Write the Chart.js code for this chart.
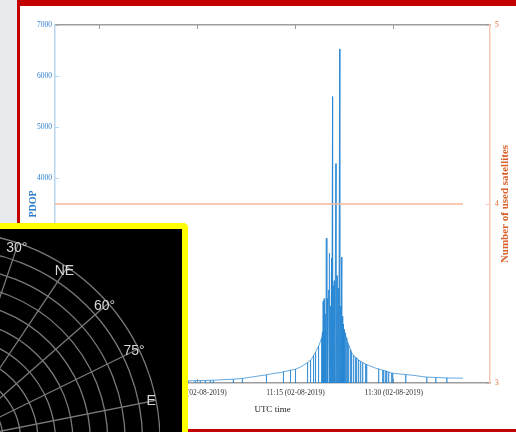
<!DOCTYPE html>
<html><head><meta charset="utf-8">
<script src="https://cdn.jsdelivr.net/npm/chart.js@4.4.1/dist/chart.umd.min.js"></script>
<style>
html,body{margin:0;padding:0;width:516px;height:432px;overflow:hidden;background:#e8eaee;}
#frame{position:absolute;left:17px;top:0;width:520px;height:423px;background:#fff;border-top:6px solid #c20000;border-left:3px solid #c20000;border-bottom:3px solid #c20000;}
#main{position:absolute;left:0;top:0;}
#sky{position:absolute;left:-10px;top:223px;width:192px;height:220px;background:#000;border-top:6px solid #ffff00;border-right:6px solid #ffff00;border-top-right-radius:5px;overflow:hidden;}
#polar{position:absolute;left:-248px;top:3px;}
</style></head>
<body>
<div id="frame"></div>
<canvas id="main" width="516" height="432"></canvas>
<div id="sky"><canvas id="polar" width="418" height="418"></canvas></div>
<script>
// ---- data (time in minutes after 10:00 UTC, 02-08-2019) ----
const timeMin = [
38.27, 45.15, 52.81, 58.47,
58.62, 58.62, 58.62,
59.69, 59.69, 59.69,
60.46, 60.46, 60.46,
61.22, 61.22, 61.22,
61.99, 61.99, 61.99,
62.45, 62.45, 62.45,
63.52,
65.51, 65.51, 65.51,
66.58,
66.89, 66.89, 66.89,
69.34,
70.56, 70.56, 70.56,
71.17, 72.70,
73.16, 73.16, 73.16,
74.23, 74.23, 74.23,
74.39,
75.00, 75.00, 75.00,
75.77,
76.84, 76.84, 76.84,
76.99,
77.30, 77.30, 77.30,
77.60,
77.76, 77.76, 77.76,
78.06, 78.06, 78.06,
78.21,
78.52, 78.52, 78.52,
78.83,
78.98, 78.98, 78.98,
79.13, 79.13, 79.21,
79.29, 79.29, 79.36,
79.44, 79.44, 79.52,
79.59, 79.59, 79.70,
79.80, 79.80,
79.90, 79.90,
80.05, 80.12, 80.12,
80.20, 80.20,
80.30, 80.30,
80.51, 80.51,
80.66, 80.66,
80.75, 80.75,
80.90, 80.90,
81.00, 81.00,
81.18, 81.18,
81.35, 81.35,
81.50, 81.50,
81.62, 81.62,
81.76, 81.76,
81.92, 81.92,
82.06, 82.06,
82.20, 82.20,
82.32, 82.32,
82.45, 82.45,
82.58, 82.58,
82.70,
82.81, 82.81, 82.81,
82.96, 82.96, 82.96,
83.12, 83.12, 83.12,
83.27,
83.42, 83.42, 83.42,
83.57, 83.57, 83.57,
83.72,
83.88, 83.88, 83.88,
84.18, 84.18, 84.18,
84.34, 84.34, 84.34,
84.64, 84.64, 84.64,
84.95, 84.95, 84.95,
85.26, 85.26, 85.26,
85.71, 85.71, 85.71,
85.87, 85.87, 85.87,
86.48, 87.24,
87.70, 87.70, 87.70,
88.01,
88.32, 88.32, 88.32,
88.47, 88.47, 88.47,
88.78, 88.78, 88.78,
88.93, 88.93, 88.93,
89.23, 89.23, 89.23,
89.69, 89.69, 89.69,
89.85, 89.85, 89.85,
90.00, 91.07,
91.84, 91.84, 91.84,
92.60, 94.90,
95.05, 95.05, 95.05,
96.43, 96.43, 96.43,
97.96,
98.11, 98.11, 98.11,
99.49, 100.56
];
const pdop = [
15, 20, 30, 42,
42, 0, 42,
45, 0, 45,
48, 0, 48,
50, 0, 50,
53, 0, 53,
55, 0, 55,
62,
75, 0, 75,
85,
88, 0, 88,
137,
160, 0, 160,
176, 205,
220, 0, 220,
250, 0, 250,
254,
270, 0, 270,
313,
400, 0, 400,
410,
450, 0, 450,
500,
540, 0, 540,
600, 0, 600,
645,
720, 0, 720,
820,
880, 0, 880,
1000, 0, 1600,
1100, 0, 1650,
1200, 0, 1150,
1350, 0, 2830,
1300, 0,
1650, 0,
1820, 1400, 0,
2540, 0,
1500, 0,
2440, 0,
5600, 0,
1900, 0,
2000, 0,
1700, 0,
4290, 0,
2100, 0,
1850, 0,
1600, 0,
6530, 0,
1500, 0,
2460, 0,
1300, 0,
1150, 0,
1050, 0,
980, 0,
930,
880, 0, 880,
800, 0, 800,
740, 0, 740,
700,
650, 0, 650,
590, 0, 590,
560,
540, 0, 540,
500, 0, 500,
490, 0, 490,
450, 0, 450,
425, 0, 425,
400, 0, 400,
370, 0, 370,
360, 0, 360,
330, 290,
275, 0, 275,
260,
250, 0, 250,
245, 0, 245,
235, 0, 235,
230, 0, 230,
215, 0, 215,
195, 0, 195,
192, 0, 192,
190, 175,
165, 0, 165,
156, 117,
116, 0, 116,
108, 0, 108,
100,
99, 0, 99,
96, 94
];
const satTime = [38.27, 100.56];
const satCount = [4, 4];
const xTicks = [45, 60, 75, 90];          // 10:45, 11:00, 11:15, 11:30
const pdopTicks = [0, 1000, 2000, 3000, 4000, 5000, 6000, 7000];
const satTicks = [3, 4, 5];
const dateText = '02-08-2019';
const skyLabels = ['N','15°','30°','NE','60°','75°','E','105°','120°','SE','150°','165°',
                   'S','195°','210°','SW','240°','255°','W','285°','300°','NW','330°','345°'];
const skyRingMax = 12;

function fmtTime(v){
  const h = 10 + Math.floor(v / 60);
  const m = Math.round(v % 60);
  return h + ':' + String(m).padStart(2,'0') + ' (' + dateText + ')';
}

const serif = "'Liberation Serif', 'DejaVu Serif', serif";

const rightTitle = {
  id:'rightTitle',
  afterDraw(chart){
    const s = chart.scales.y1, ctx = chart.ctx;
    ctx.save();
    ctx.translate(s.right - 11, (s.top + s.bottom) / 2);
    ctx.rotate(-Math.PI / 2);
    ctx.font = "bold 11px " + serif;
    ctx.fillStyle = '#d9622a';
    ctx.textAlign = 'center';
    ctx.textBaseline = 'middle';
    ctx.fillText('Number of used satellites', 0, 0);
    ctx.restore();
  }
};

const xMin = 38.27, xMax = 104.7;

new Chart(document.getElementById('main'), {
  type: 'line',
  data: {
    datasets: [
      { label: 'Number of used satellites', yAxisID: 'y1',
        data: satTime.map((t, i) => ({x: t, y: satCount[i]})),
        borderColor: '#f5b699', borderWidth: 1.5, pointRadius: 0, tension: 0 },
      { label: 'PDOP', yAxisID: 'y',
        data: timeMin.map((t, i) => ({x: t, y: pdop[i]})),
        borderColor: 'rgba(40,135,210,0.72)', borderWidth: 1, pointRadius: 0, tension: 0 }
    ]
  },
  options: {
    responsive: false, animation: false, devicePixelRatio: 1,
    layout: { padding: 0 },
    plugins: { legend: { display: false }, tooltip: { enabled: false } },
    scales: {
      x: {
        type: 'linear', position: 'bottom', min: xMin, max: xMax,
        afterBuildTicks: s => { s.ticks = xTicks.map(v => ({value: v})); },
        afterFit: s => { s.height = 49; },
        ticks: { callback: v => fmtTime(v), color: '#333', font: {family: serif, size: 7.5},
                 padding: 10, maxRotation: 0, autoSkip: false },
        grid: { drawOnChartArea: false, tickLength: -4, color: '#9d9d9d' },
        border: { color: '#9d9d9d', width: 1.5 },
        title: { display: true, text: 'UTC time', color: '#222', font: {family: serif, size: 9},
                 padding: {top: 0, bottom: 17} }
      },
      x2: {
        type: 'linear', position: 'top', min: xMin, max: xMax,
        afterBuildTicks: s => { s.ticks = xTicks.map(v => ({value: v})); },
        afterFit: s => { s.height = 25; },
        ticks: { display: false },
        grid: { drawOnChartArea: false, tickLength: -4, color: '#9d9d9d' },
        border: { color: '#9d9d9d', width: 1.5 }
      },
      y: {
        type: 'linear', position: 'left', min: 0, max: 7000,
        afterBuildTicks: s => { s.ticks = pdopTicks.map(v => ({value: v})); },
        afterFit: s => { s.width = 55; },
        ticks: { color: '#2f80cc', font: {family: serif, size: 7.5}, padding: 7, callback: v => String(v) },
        grid: { drawOnChartArea: false, tickLength: -4, color: '#b8d6ef' },
        border: { color: '#b8d6ef', width: 1.5 },
        title: { display: true, text: 'PDOP', color: '#2a7cc8',
                 font: {family: serif, size: 10, weight: 'bold'}, padding: {top: 27, bottom: 0} }
      },
      y1: {
        type: 'linear', position: 'right', min: 3, max: 5,
        afterBuildTicks: s => { s.ticks = satTicks.map(v => ({value: v})); },
        afterFit: s => { s.width = 26; },
        ticks: { color: '#e06a2e', font: {family: serif, size: 7.5}, padding: 9, callback: v => String(v) },
        grid: { drawOnChartArea: false, tickLength: -4, color: '#f6c8b2' },
        border: { color: '#f6c8b2', width: 1.5 }
      }
    }
  },
  plugins: [rightTitle]
});

// sky plot: azimuth labels drawn centred on their spokes, just inside the horizon circle
const skyLabelPlugin = {
  id: 'skyLabels',
  afterDraw(chart){
    const s = chart.scales.r, ctx = chart.ctx;
    ctx.save();
    ctx.font = "14px 'Liberation Sans', Arial, sans-serif";
    ctx.fillStyle = '#d8d8d8';
    ctx.textAlign = 'center';
    ctx.textBaseline = 'middle';
    skyLabels.forEach((lab, i) => {
      const p = s.getPointPosition(i, s.drawingArea - 5);
      ctx.fillText(lab, p.x, p.y);
    });
    ctx.restore();
  }
};

new Chart(document.getElementById('polar'), {
  type: 'radar',
  data: { labels: skyLabels, datasets: [{ data: skyLabels.map(() => null), pointRadius: 0, borderWidth: 0 }] },
  options: {
    responsive: false, animation: false, devicePixelRatio: 1,
    layout: { padding: 0 },
    plugins: { legend: { display: false }, tooltip: { enabled: false } },
    scales: {
      r: {
        min: 0, max: skyRingMax, startAngle: -11.2,
        ticks: { display: false, stepSize: 1 },
        grid: { circular: true, color: '#7a7a7a', lineWidth: 1.3 },
        angleLines: { color: '#7a7a7a', lineWidth: 1.3 },
        pointLabels: { display: false }
      }
    }
  },
  plugins: [skyLabelPlugin]
});
</script>
</body></html>
